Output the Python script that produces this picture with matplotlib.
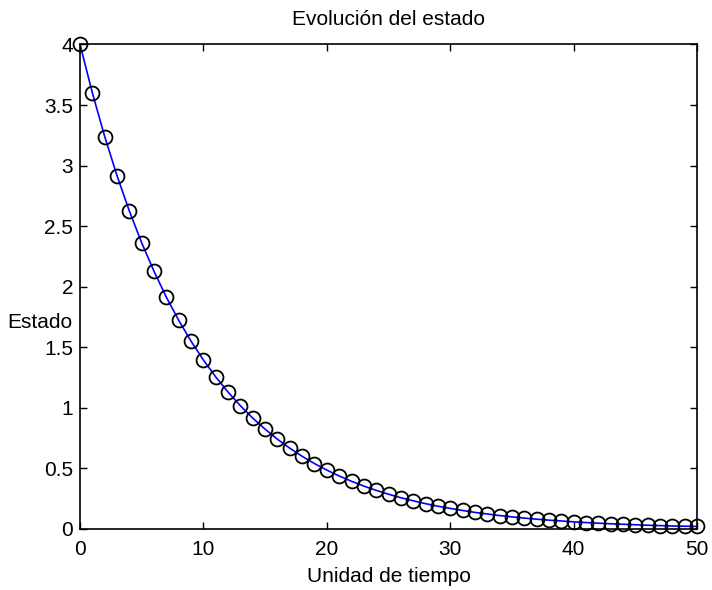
import matplotlib
matplotlib.use("Agg")
import matplotlib.pyplot as plt

plt.rcParams['font.family'] = ['Liberation Sans', 'DejaVu Sans']

# estado, paso 0..50
tiempo = list(range(51))
estado = [4.000, 3.600, 3.240, 2.916, 2.624, 2.362, 2.126, 1.913, 1.722, 1.550,
          1.395, 1.255, 1.130, 1.017, 0.915, 0.824, 0.741, 0.667, 0.600, 0.540,
          0.486, 0.438, 0.394, 0.354, 0.319, 0.287, 0.258, 0.233, 0.209, 0.188,
          0.170, 0.153, 0.137, 0.124, 0.111, 0.100, 0.090, 0.081, 0.073, 0.066,
          0.059, 0.053, 0.048, 0.043, 0.039, 0.035, 0.031, 0.028, 0.025, 0.023,
          0.021]
xticks = [0, 10, 20, 30, 40, 50]
yticks = [0, 0.5, 1, 1.5, 2, 2.5, 3, 3.5, 4]
yticklabels = ['0', '0.5', '1', '1.5', '2', '2.5', '3', '3.5', '4']

fig = plt.figure(figsize=(7.12, 5.9), dpi=100)
ax = fig.add_axes([0.1124, 0.1034, 0.8666, 0.8212])

ax.plot(tiempo, estado, '-', color='blue', lw=1.2, zorder=2)
ax.plot(tiempo, estado, 'o', mfc='none', mec='black', ms=10, mew=1.3, zorder=3, clip_on=False)

ax.set_xlim(0, 50)
ax.set_ylim(0, 4)
ax.set_xticks(xticks)
ax.set_yticks(yticks)
ax.set_yticklabels(yticklabels)
ax.tick_params(direction='in', length=5, width=1, top=True, right=True,
               labelsize=15)
ax.tick_params(axis='x', pad=8)
ax.tick_params(axis='y', pad=5)
for s in ax.spines.values():
    s.set_linewidth(1.2)

ax.set_title('Evolución del estado', fontsize=15, pad=14)
ax.set_xlabel('Unidad de tiempo', fontsize=15, labelpad=6)
ax.set_ylabel('Estado', fontsize=15, rotation=0, ha='right', va='center')
ax.yaxis.set_label_coords(-0.012, 0.427)

fig.savefig('out.png', dpi=100)
